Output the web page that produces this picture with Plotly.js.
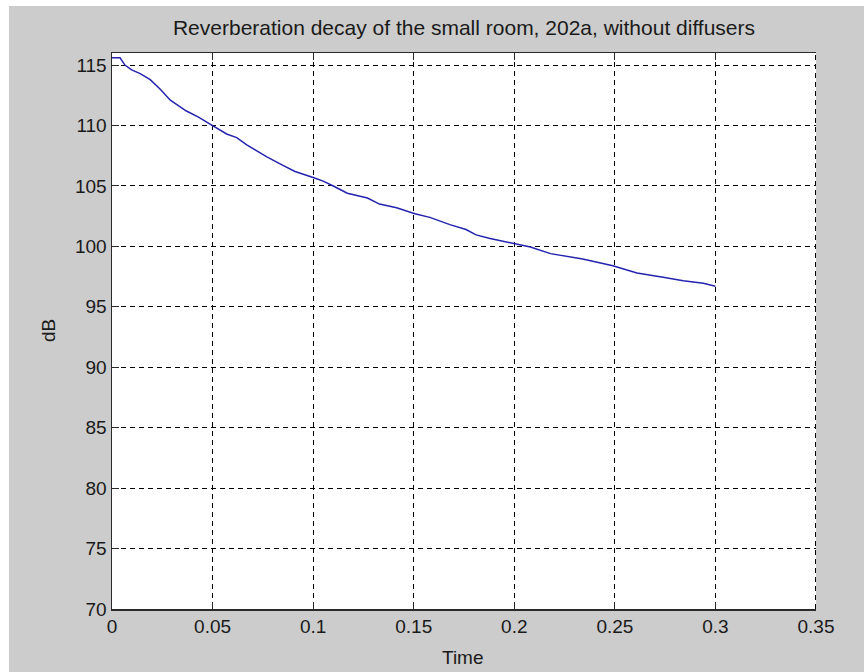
<!DOCTYPE html>
<html>
<head>
<meta charset="utf-8">
<script src="https://cdn.plot.ly/plotly-3.0.1.min.js"></script>
<style>html,body{margin:0;padding:0;background:#fff;}#chart{width:864px;height:672px;}</style>
</head>
<body>
<div id="chart"></div>
<script>
// Data
const timeS = [0, 0.004, 0.0064, 0.0098, 0.014, 0.019, 0.024, 0.029, 0.037, 0.043, 0.050,
  0.057, 0.062, 0.067, 0.072, 0.077, 0.085, 0.091, 0.100, 0.105, 0.110, 0.117, 0.127,
  0.133, 0.1415, 0.1506, 0.158, 0.163, 0.168, 0.176, 0.181, 0.188, 0.200, 0.208, 0.218,
  0.234, 0.249, 0.261, 0.274, 0.284, 0.294, 0.300];
const levelDb = [115.6, 115.6, 115.0, 114.6, 114.3, 113.8, 113.0, 112.1, 111.2, 110.7, 110.0,
  109.3, 109.0, 108.4, 107.9, 107.4, 106.7, 106.2, 105.7, 105.4, 105.0, 104.4, 104.0,
  103.5, 103.2, 102.7, 102.4, 102.1, 101.8, 101.4, 100.95, 100.65, 100.25, 99.95, 99.4,
  98.95, 98.4, 97.8, 97.45, 97.15, 96.95, 96.7];
const xTickVals = [0, 0.05, 0.1, 0.15, 0.2, 0.25, 0.3, 0.35];
const xTickText = ["0", "0.05", "0.1", "0.15", "0.2", "0.25", "0.3", "0.35"];
const yTickVals = [70, 75, 80, 85, 90, 95, 100, 105, 110, 115];
const yTickText = ["70", "75", "80", "85", "90", "95", "100", "105", "110", "115"];
const xRange = [0, 0.35];
const yRange = [70, 116];

const FONT = "Liberation Sans, Arial, sans-serif";
const TXT = "#1a1a1a";

const trace = {
  x: timeS, y: levelDb, type: "scatter", mode: "lines",
  line: {color: "rgb(35,35,175)", width: 1.5},
  hoverinfo: "skip", showlegend: false
};

const layout = {
  width: 864, height: 672,
  margin: {l: 112, r: 48, t: 53, b: 63, pad: 0},
  paper_bgcolor: "#ffffff",
  plot_bgcolor: "#ffffff",
  showlegend: false,
  font: {family: FONT, size: 19, color: TXT},
  title: {
    text: "Reverberation decay of the small room, 202a, without diffusers",
    font: {family: FONT, size: 21, color: TXT},
    xref: "paper", x: 0.5, xanchor: "center",
    yref: "container", y: 1 - 28 / 672, yanchor: "middle"
  },
  xaxis: {
    range: xRange, tickvals: xTickVals, ticktext: xTickText,
    showgrid: true, gridcolor: "#000000", gridwidth: 1, griddash: "5px,4px",
    zeroline: false, showline: true, linecolor: "#2a2a2a", linewidth: 1.5,
    mirror: "ticks", ticks: "inside", ticklen: 7, tickcolor: "#2a2a2a", tickwidth: 1,
    tickfont: {family: FONT, size: 19, color: TXT}
  },
  yaxis: {
    range: yRange, tickvals: yTickVals, ticktext: yTickText,
    showgrid: true, gridcolor: "#000000", gridwidth: 1, griddash: "5px,4px",
    zeroline: false, showline: true, linecolor: "#2a2a2a", linewidth: 1.5,
    mirror: false, ticks: "inside", ticklen: 7, tickcolor: "#2a2a2a", tickwidth: 1,
    tickfont: {family: FONT, size: 19, color: TXT}
  },
  yaxis2: {
    range: yRange, tickvals: yTickVals, overlaying: "y", side: "right",
    showgrid: false, zeroline: false, showline: false, showticklabels: false,
    ticks: "inside", ticklen: 7, tickcolor: "#2a2a2a", tickwidth: 1
  },
  shapes: [
    {type: "rect", xref: "paper", yref: "paper", layer: "below",
     x0: (9 - 112) / 704, x1: (864 - 112) / 704 + 0.01,
     y0: (609 - 672) / 556 - 0.01, y1: (609 - 6) / 556,
     fillcolor: "#cccccc", line: {width: 0}},
    {type: "rect", xref: "paper", yref: "paper", layer: "below",
     x0: 0, x1: 1, y0: 0, y1: 1, fillcolor: "#ffffff", line: {width: 0}},
    {type: "line", xref: "x", yref: "paper", layer: "above",
     x0: xRange[1], x1: xRange[1], y0: 0, y1: 1,
     line: {color: "#000000", width: 2, dash: "5px,4px"}}
  ],
  annotations: [
    {text: "dB", xref: "paper", yref: "paper", x: (48 - 112) / 704, y: 0.5,
     xanchor: "center", yanchor: "middle", textangle: -90, showarrow: false,
     font: {family: FONT, size: 19, color: TXT}},
    {text: "Time", xref: "paper", yref: "paper", x: (463 - 112) / 704, y: (609 - 657) / 556,
     xanchor: "center", yanchor: "middle", showarrow: false,
     font: {family: FONT, size: 19, color: TXT}}
  ]
};

Plotly.newPlot("chart", [trace], layout, {displayModeBar: false, staticPlot: true});
</script>
</body>
</html>
